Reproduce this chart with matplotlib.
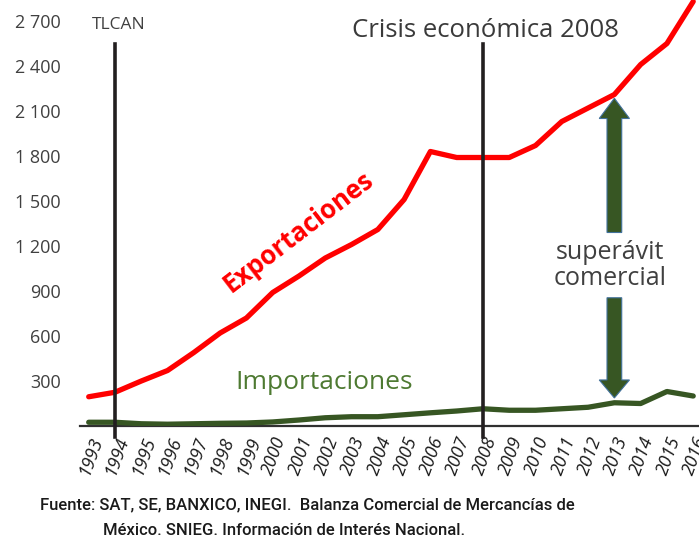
import matplotlib.pyplot as plt
from matplotlib.patches import FancyArrow

years = list(range(1993, 2017))
exportaciones = [195, 225, 300, 370, 490, 620, 720, 890, 1000, 1120, 1210, 1310,
                 1510, 1830, 1790, 1790, 1790, 1870, 2030, 2120, 2210, 2410, 2550, 2830]
importaciones = [25, 25, 15, 12, 15, 18, 20, 27, 40, 55, 62, 62,
                 75, 88, 100, 115, 105, 105, 115, 125, 155, 150, 230, 200]
y_ticks = [300, 600, 900, 1200, 1500, 1800, 2100, 2400, 2700]
y_labels = ["300", "600", "900", "1 200", "1 500", "1 800", "2 100", "2 400", "2 700"]
events = [1994, 2008]

plt.rcParams["font.family"] = ["Open Sans", "DejaVu Sans"]

fig = plt.figure(figsize=(6.99, 5.42), dpi=100)
ax = fig.add_axes([0.1145, 0.214, 0.8855, 0.786])

ax.plot(years, exportaciones, color="#ff0000", lw=3.8, solid_capstyle="round", zorder=3)
ax.plot(years, importaciones, color="#375623", lw=3.8, solid_capstyle="round", zorder=3)

for yr in events:
    ax.plot([yr, yr], [-75, 2550], color="#231f20", lw=2.6, clip_on=False, zorder=4)

ax.set_xlim(1992.67, 2016.22)
ax.set_ylim(0, 2840)
ax.set_yticks(y_ticks)
ax.set_yticklabels(y_labels, fontsize=13, color="#404040")
ax.set_xticks(years)
ax.set_xticklabels([str(y) for y in years], rotation=70, fontsize=13, color="#1a1a1a",
                   style="italic", ha="right", va="top", rotation_mode="anchor")
ax.tick_params(axis="y", length=0, pad=14)
ax.tick_params(axis="x", length=0, pad=6)
for side in ["left", "right", "top"]:
    ax.spines[side].set_visible(False)
ax.spines["bottom"].set_color("#303030")
ax.spines["bottom"].set_linewidth(1.6)

ax.text(1994.15, 2673, "TLCAN", fontsize=12.5, color="#404040", ha="center", va="center")
ax.text(2008.1, 2640, "Crisis económica 2008", fontsize=18.5, color="#3a3a3a",
        ha="center", va="center")
ax.text(2001.0, 1293, "Exportaciones", fontsize=18.5, fontweight="bold", color="#ff0000",
        rotation=37.5, ha="center", va="center")
ax.text(2001.95, 287, "Importaciones", fontsize=19, color="#4e7a32",
        ha="center", va="center")
ax.text(2012.85, 1073, "superávit\ncomercial", fontsize=18, color="#404040",
        ha="center", va="center", linespacing=1.05)

ax.add_patch(FancyArrow(2013, 1290, 0, 2185 - 1290, width=0.56, head_width=1.15,
                        head_length=135, length_includes_head=True,
                        facecolor="#375623", edgecolor="#41719c", lw=0.8, zorder=5))
ax.add_patch(FancyArrow(2013, 855, 0, 187 - 855, width=0.56, head_width=1.15,
                        head_length=120, length_includes_head=True,
                        facecolor="#375623", edgecolor="#41719c", lw=0.8, zorder=5))

src_font = ["Roboto", "DejaVu Sans"]
fig.text(0.057, 0.068, "Fuente: SAT, SE, BANXICO, INEGI.  Balanza Comercial de Mercancías de",
         fontsize=12, family=src_font, fontweight="medium", color="#1a1a1a",
         ha="left", va="center")
fig.text(0.147, 0.021, "México. SNIEG. Información de Interés Nacional.",
         fontsize=12, family=src_font, fontweight="medium", color="#1a1a1a",
         ha="left", va="center")

fig.savefig("out.png", dpi=100)
